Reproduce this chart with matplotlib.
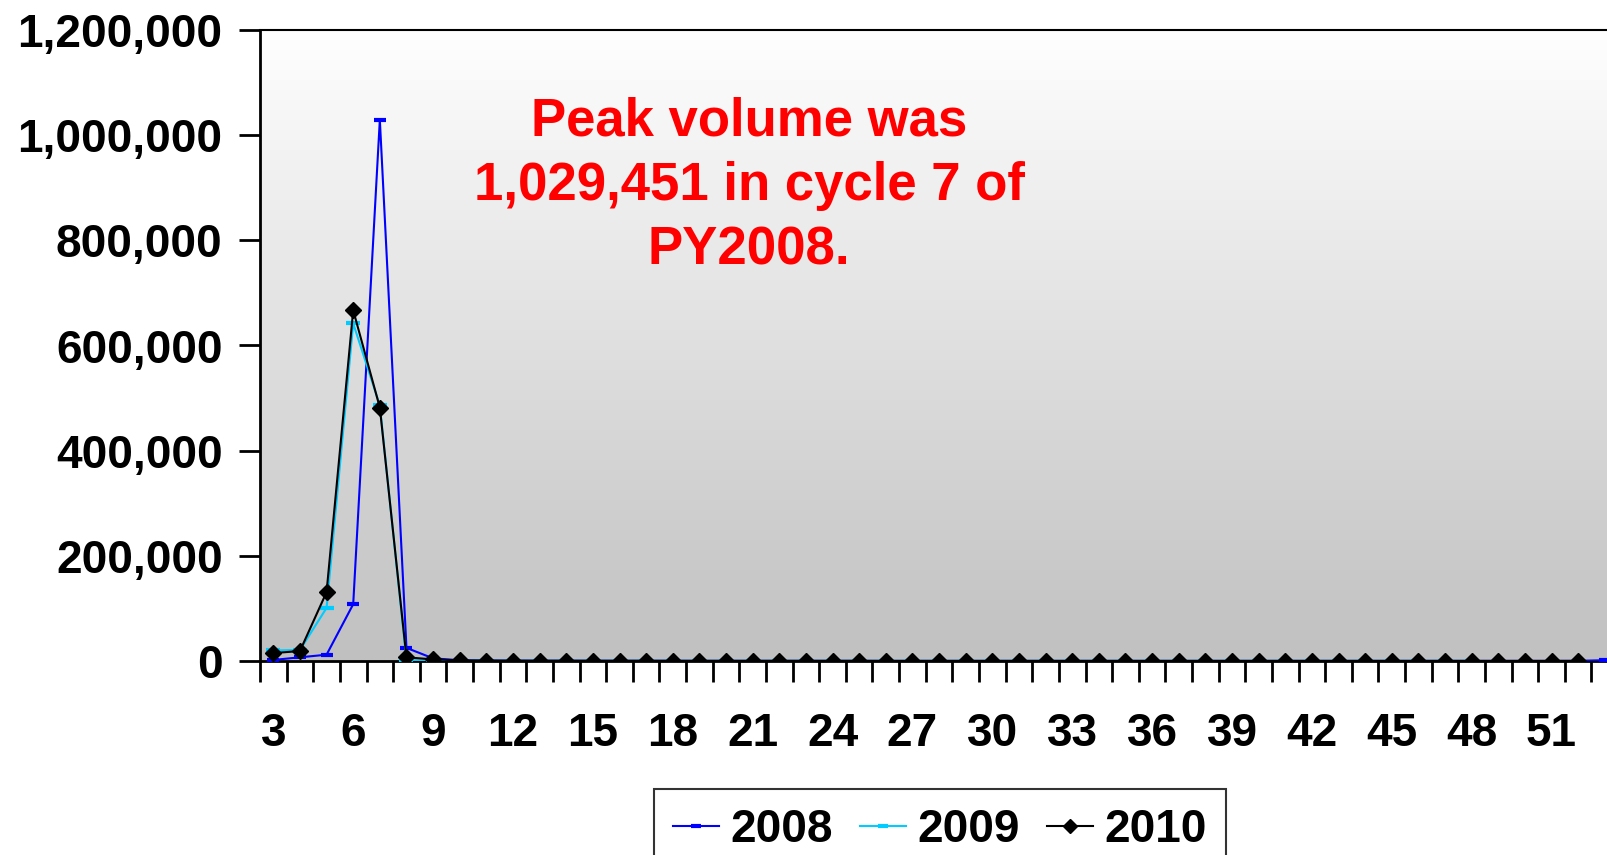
import numpy as np
import matplotlib
matplotlib.use('Agg')
import matplotlib.pyplot as plt
from matplotlib.ticker import FuncFormatter, FixedLocator

plt.rcParams['font.family'] = ['Liberation Sans', 'DejaVu Sans']
plt.rcParams['font.weight'] = 'bold'

# 数据
cycles_2008 = list(range(3, 55))
py2008 = [2000, 7000, 12000, 108000, 1029451, 25000, 5000, 1500,
          900, 700, 600, 500, 500, 400, 400, 400, 300, 300,
          300, 300, 300, 300, 300, 200, 200, 200, 200, 200,
          200, 200, 200, 200, 200, 200, 200, 200, 200, 200,
          200, 200, 200, 200, 200, 200, 200, 200, 200, 200,
          200, 300, 1500, 1500]
cycles_2009 = list(range(3, 49))
py2009 = [20000, 21000, 101000, 642000, 486000, 1500, 800, 500,
          400, 400, 300, 300, 300, 300, 300, 200, 200, 200,
          200, 200, 200, 200, 200, 200, 200, 200, 200, 200,
          200, 200, 200, 200, 200, 200, 200, 200, 200, 200,
          200, 200, 200, 200, 200, 200, 200, 200]
cycles_2010 = list(range(3, 53))
py2010 = [15000, 19000, 131000, 667000, 482000, 7000, 3000, 1200,
          800, 600, 500, 500, 400, 400, 400, 300, 300, 300,
          300, 300, 300, 300, 300, 200, 200, 200, 200, 200,
          200, 200, 200, 200, 200, 200, 200, 200, 200, 200,
          200, 200, 200, 200, 200, 200, 200, 200, 200, 200,
          200, 200]
x_labels = list(range(3, 52, 3))
y_ticks = [0, 200000, 400000, 600000, 800000, 1000000, 1200000]
note = 'Peak volume was\n1,029,451 in cycle 7 of\nPY2008.'

W, H = 1608, 855
fig = plt.figure(figsize=(W / 100, H / 100), dpi=100)
ax = fig.add_axes([260 / W, 1 - 661 / H, 1 - 260 / W, (661 - 30) / H])

# 渐变背景
grad = np.linspace(192, 255, 256)[:, None] / 255.0
grad = np.repeat(grad, 2, axis=1)
ax.imshow(np.dstack([grad, grad, grad]), extent=[0, 1, 0, 1], transform=ax.transAxes,
          aspect='auto', origin='lower', zorder=0)

ax.plot(cycles_2008, py2008, color='#0000FF', lw=1.5, marker='_', ms=8, mew=3, label='2008', zorder=3)
ax.plot(cycles_2009, py2009, color='#00CCFF', lw=1.5, marker='_', ms=10, mew=3, label='2009', zorder=4)
ax.plot(cycles_2010, py2010, color='black', lw=1.5, marker='D', ms=8, label='2010', zorder=5)

ax.set_xlim(2.5, 2.5 + (W - 260) / 26.63)
ax.set_ylim(0, 1200000)

ax.set_yticks(y_ticks)
ax.yaxis.set_major_formatter(FuncFormatter(lambda v, p: f'{int(v):,}'))
ax.xaxis.set_major_locator(FixedLocator(x_labels))
ax.xaxis.set_minor_locator(FixedLocator(np.arange(2.5, 56, 1.0)))
ax.tick_params(axis='y', length=15, width=2, pad=12, labelsize=33, direction='out')
ax.tick_params(axis='x', which='major', length=0, pad=37, labelsize=33)
ax.tick_params(axis='x', which='minor', length=15, width=2, direction='out')
for lab in ax.get_xticklabels() + ax.get_yticklabels():
    lab.set_fontweight('bold')

for s in ['left', 'bottom']:
    ax.spines[s].set_linewidth(2)
ax.spines['top'].set_linewidth(1.5)
ax.spines['right'].set_visible(False)

fig.text(749 / W, 1 - 186 / H, note, color='red', fontsize=38, fontweight='bold',
         ha='center', va='center', linespacing=1.36)

leg = fig.legend(loc='upper center', bbox_to_anchor=(940 / W, 1 - 789 / H), ncol=3,
                 frameon=True, fancybox=False, handlelength=1.0, borderaxespad=0,
                 handletextpad=0.25, columnspacing=0.6, borderpad=0.42,
                 prop={'weight': 'bold', 'size': 33})
leg.get_frame().set_edgecolor('black')
leg.get_frame().set_linewidth(1.5)
for h in leg.legend_handles:
    h.set_markersize(7)

fig.savefig('out.png', dpi=100)
